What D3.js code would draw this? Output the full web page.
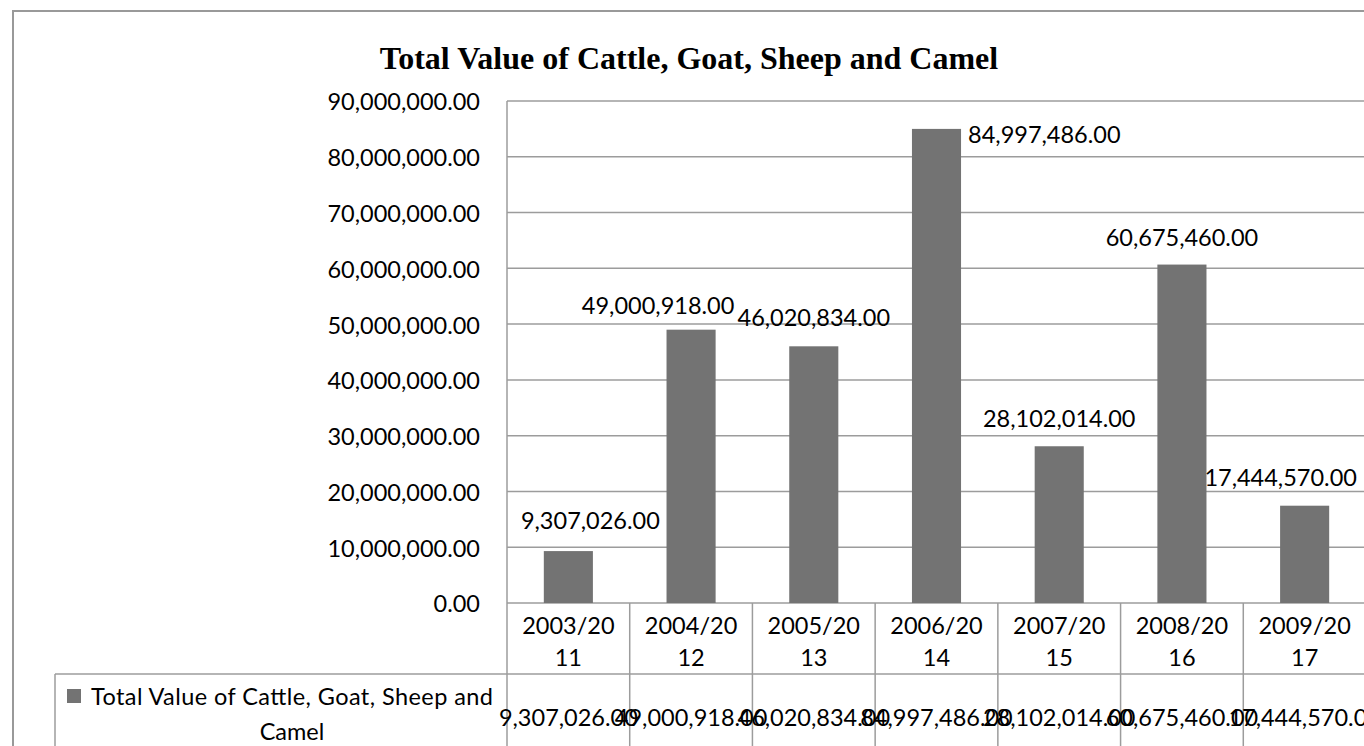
<!DOCTYPE html>
<html>
<head>
<meta charset="utf-8">
<script src="https://cdn.jsdelivr.net/npm/d3@7"></script>
<style>
  html, body { margin: 0; padding: 0; background: #fff; overflow: hidden; }
  svg { display: block; }
</style>
</head>
<body>
<svg id="chart" width="1364" height="746"></svg>
<script>
// ---- data ----
const title = "Total Value of Cattle, Goat, Sheep and Camel";
const seriesName = "Total Value of Cattle, Goat, Sheep and Camel";
const categories = ["2003/2011", "2004/2012", "2005/2013", "2006/2014", "2007/2015", "2008/2016", "2009/2017"];
const values = [9307026, 49000918, 46020834, 84997486, 28102014, 60675460, 17444570];
const yTicks = [0, 10000000, 20000000, 30000000, 40000000, 50000000, 60000000, 70000000, 80000000, 90000000];

// label placement hints (Excel-style collision avoidance)
const labelDx = [22, -33, 0, null, 0, 0, -24];   // null = placed to the right of bar
const labelDy = [-22, -16, -20, 14, -19, -19, -20];

// ---- layout ----
const svg = d3.select("#chart");
const W = 1364, H = 746;
const plotLeft = 507, plotRight = 1366, plotTop = 101, plotBottom = 603;
const tableRow1 = 674;
const gridColor = "#9c9c9c";
const barColor = "#737373";
const font = "Lato, 'Open Sans', sans-serif";
const fs = 23.5;

svg.append("rect").attr("width", W).attr("height", H).attr("fill", "#fff");

// outer chart border
svg.append("rect")
  .attr("x", 13).attr("y", 11).attr("width", W + 20).attr("height", H + 20)
  .attr("fill", "none").attr("stroke", "#999").attr("stroke-width", 2);

const x = d3.scaleBand().domain(categories).range([plotLeft, plotRight]);
const y = d3.scaleLinear().domain([0, 90000000]).range([plotBottom, plotTop]);
const fmt = d3.format(",.2f");

// title
svg.append("text")
  .attr("x", 689).attr("y", 69)
  .attr("text-anchor", "middle")
  .attr("font-family", "'Liberation Serif', 'Times New Roman', serif")
  .attr("font-weight", "bold")
  .attr("font-size", 32)
  .attr("fill", "#000")
  .text(title);

// gridlines
svg.append("g")
  .selectAll("line")
  .data(yTicks)
  .join("line")
  .attr("x1", plotLeft).attr("x2", plotRight)
  .attr("y1", d => y(d)).attr("y2", d => y(d))
  .attr("stroke", gridColor).attr("stroke-width", 1.5);

// y axis
const yAxis = d3.axisLeft(y).tickValues(yTicks).tickFormat(fmt).tickSize(0).tickPadding(27);
const yg = svg.append("g").attr("transform", `translate(${plotLeft},0)`).call(yAxis);
yg.select(".domain").remove();
yg.selectAll("text")
  .attr("font-family", font).attr("font-size", fs).attr("fill", "#000")
  .attr("dy", "0.38em");

// plot-area left edge, extended through the data table
svg.append("line")
  .attr("x1", plotLeft).attr("x2", plotLeft)
  .attr("y1", plotTop).attr("y2", H)
  .attr("stroke", gridColor).attr("stroke-width", 1.5);

// bars
const bw = x.bandwidth() * 0.4;
svg.append("g")
  .selectAll("rect")
  .data(values)
  .join("rect")
  .attr("x", (d, i) => x(categories[i]) + x.bandwidth() / 2 - bw / 2)
  .attr("width", bw)
  .attr("y", d => y(d))
  .attr("height", d => y(0) - y(d))
  .attr("fill", barColor);

// data labels
svg.append("g")
  .selectAll("text")
  .data(values)
  .join("text")
  .attr("font-family", font).attr("font-size", fs).attr("fill", "#000")
  .attr("text-anchor", (d, i) => labelDx[i] === null ? "start" : "middle")
  .attr("x", (d, i) => {
    const c = x(categories[i]) + x.bandwidth() / 2;
    return labelDx[i] === null ? c + bw / 2 + 7 : c + labelDx[i];
  })
  .attr("y", (d, i) => y(d) + labelDy[i])
  .text(d => fmt(d));

// ---- data table ----
svg.append("line")
  .attr("x1", 55).attr("x2", plotRight)
  .attr("y1", tableRow1).attr("y2", tableRow1)
  .attr("stroke", gridColor).attr("stroke-width", 1.5);
svg.append("line")
  .attr("x1", 55).attr("x2", 55)
  .attr("y1", tableRow1).attr("y2", H)
  .attr("stroke", gridColor).attr("stroke-width", 1.5);
svg.append("g")
  .selectAll("line")
  .data(categories.slice(1))
  .join("line")
  .attr("x1", d => x(d)).attr("x2", d => x(d))
  .attr("y1", plotBottom).attr("y2", H)
  .attr("stroke", gridColor).attr("stroke-width", 1.5);

// category labels (wrapped)
const catG = svg.append("g");
categories.forEach(c => {
  const cx = x(c) + x.bandwidth() / 2;
  const lines = [c.slice(0, 7), c.slice(7)];
  lines.forEach((t, j) => {
    catG.append("text")
      .attr("x", cx).attr("y", 634 + j * 32)
      .attr("text-anchor", "middle")
      .attr("font-family", font).attr("font-size", fs).attr("fill", "#000")
      .text(t);
  });
});

// value row
svg.append("g")
  .selectAll("text")
  .data(values)
  .join("text")
  .attr("x", (d, i) => x(categories[i]) + x.bandwidth() / 2)
  .attr("y", 726)
  .attr("text-anchor", "middle")
  .attr("font-family", font).attr("font-size", fs).attr("fill", "#000")
  .text(d => fmt(d));

// legend key + series name
svg.append("rect")
  .attr("x", 67).attr("y", 689).attr("width", 14).attr("height", 14)
  .attr("fill", barColor);
const words = seriesName.split(" ");
const line1 = words.slice(0, -1).join(" ");
const line2 = words[words.length - 1];
[line1, line2].forEach((t, j) => {
  svg.append("text")
    .attr("x", 292).attr("y", 705 + j * 35)
    .attr("text-anchor", "middle")
    .attr("font-family", font).attr("font-size", fs).attr("fill", "#000")
    .attr("textLength", j === 0 ? 402 : null)
    .attr("lengthAdjust", "spacing")
    .text(t);
});
</script>
</body>
</html>
